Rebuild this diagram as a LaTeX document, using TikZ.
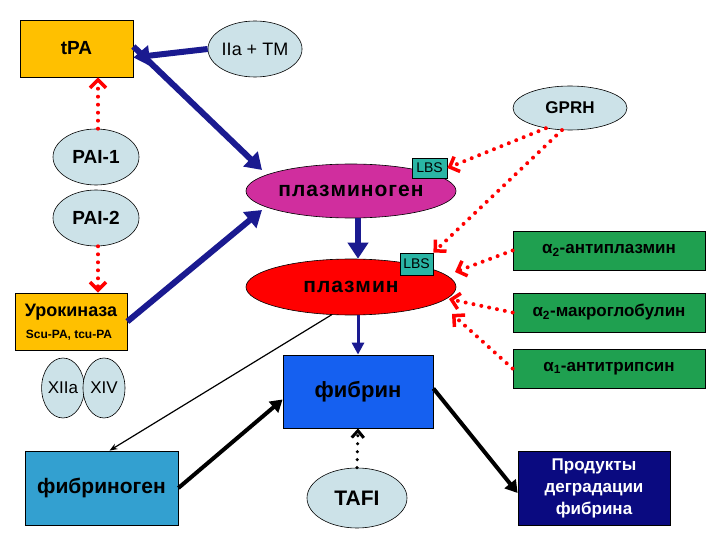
\documentclass[tikz,border=0pt]{standalone}
\usepackage{fontspec}
\setmainfont{Liberation Sans}
\usetikzlibrary{arrows.meta,shapes.geometric}
\definecolor{gold}{HTML}{FFC000}
\definecolor{lb}{HTML}{CCE2E8}
\definecolor{mag}{HTML}{D02E9E}
\definecolor{lbs}{HTML}{2AB5A5}
\definecolor{grn}{HTML}{1FA050}
\definecolor{fib}{HTML}{1560F0}
\definecolor{fbg}{HTML}{33A0D0}
\definecolor{nav}{HTML}{0A0A80}
\definecolor{bl}{HTML}{1A1A90}
\tikzset{
 box/.style={draw=black,line width=0.8pt,inner sep=0pt},
 ell/.style={ellipse,draw=black,line width=0.6pt,fill=lb,inner sep=0pt},
 big/.style={draw=bl,line width=6pt,-{Triangle[length=16pt,width=20pt]}},
 red/.style={draw=red,line width=4pt,line cap=round,dash pattern=on 0pt off 8pt,
   -{Straight Barb[length=8pt,width=16pt,line width=3.5pt]}},
 blk/.style={draw=black,line width=4pt,-{Triangle[length=12pt,width=14pt]}},
 fs/.style={font=\fontsize{#1}{#1}\selectfont},
 bfs/.style={font=\bfseries\fontsize{#1}{#1}\selectfont},
}
\begin{document}
\begin{tikzpicture}[x=1pt,y=-1pt]
\useasboundingbox (0,0) rectangle (720,540);
\fill[white] (0,0) rectangle (720,540);
% nodes
\node[box,fill=gold,minimum width=113pt,minimum height=57pt,bfs=19] (tpa) at (76.5,48.5) {tPA};
\node[ell,minimum width=84pt,minimum height=56pt,fs=18] (tm) at (255,49) {IIa + TM};
\node[ell,minimum width=114pt,minimum height=44pt,bfs=17] (gprh) at (570,108) {GPRH};
\node[ell,minimum width=86pt,minimum height=56pt,bfs=19] (pai1) at (96,157) {PAI-1};
\node[ell,minimum width=86pt,minimum height=56pt,bfs=19] (pai2) at (96,218) {PAI-2};
\node[ellipse,draw=black,line width=0.6pt,fill=mag,minimum width=210pt,minimum height=54pt,inner sep=0pt,bfs=21] (plg) at (351,191) {п\kern1pt л\kern1pt а\kern1pt з\kern1pt м\kern1pt и\kern1pt н\kern1pt о\kern1pt г\kern1pt е\kern1pt н};
\node[box,fill=lbs,minimum width=35pt,minimum height=20pt,fs=14] (lbs1) at (429.5,168) {LBS};
\node[ellipse,draw=black,line width=0.6pt,fill=red,minimum width=210pt,minimum height=56pt,inner sep=0pt,bfs=21] (pl) at (351,287) {п\kern1pt л\kern1pt а\kern1pt з\kern1pt м\kern1pt и\kern1pt н};
\node[box,fill=lbs,minimum width=33pt,minimum height=22pt,fs=14] (lbs2) at (416.5,264) {LBS};
\node[box,fill=gold,minimum width=112pt,minimum height=57pt] (uro) at (71,321.5) {};
\node[bfs=18] (urot) at (71,312) {Урокиназа};
\node[bfs=12] (urot2) at (69,335) {Scu-PA, tcu-PA};
\node[ell,minimum width=42pt,minimum height=60pt,fs=17] (x12) at (63,388) {XIIa};
\node[ell,minimum width=42pt,minimum height=60pt,fs=17] (x14) at (104,388) {XIV};
\node[box,fill=fib,minimum width=150pt,minimum height=73pt,bfs=22] (fbn) at (358,391.5) {фибрин};
\node[box,fill=fbg,minimum width=153pt,minimum height=74pt,bfs=21] (fbg) at (101.5,488) {фибриноген};
\node[ell,minimum width=100pt,minimum height=60pt,bfs=21] (tafi) at (357,498) {TAFI};
\node[box,fill=nav,text=white,minimum width=152pt,minimum height=74pt,align=center,font=\bfseries\fontsize{17}{22}\selectfont] (prod) at (594,488) {Продукты\\деградации\\фибрина};
\node[box,fill=grn,minimum width=192pt,minimum height=39pt,bfs=17] (a2ap) at (609,250.5) {α\textsubscript{2}-антиплазмин};
\node[box,fill=grn,minimum width=192pt,minimum height=39pt,bfs=17] (a2m) at (609,312.5) {α\textsubscript{2}-макроглобулин};
\node[box,fill=grn,minimum width=192pt,minimum height=39pt,bfs=17] (a1at) at (609,368.5) {α\textsubscript{1}-антитрипсин};
% coordinates
\coordinate (c1) at (262,170);
\coordinate (c2) at (262,210);
\coordinate (r1) at (455,272);
\coordinate (r2) at (449,299);
\coordinate (r3) at (452,314);
% blue arrows
\draw[big] (tm.west) -- ([yshift=-9pt]tpa.east);
\draw[big] ([yshift=2pt]tpa.east) -- (c1);
\draw[big] (uro.east) -- (c2);
\draw[big] (plg.south -| fbn.north) -- (pl.north -| fbn.north);
\draw[draw=bl,line width=3pt,-{Triangle[length=12pt,width=12pt]}] (pl.south -| fbn.north) -- (fbn.north);
\draw[black,line width=1.2pt,-{Stealth[length=8pt,width=6pt]}] (pl.235) -- ([xshift=8pt]fbg.north);
\draw[blk] (fbg.east) -- ([yshift=-8pt]fbn.west);
\draw[blk] ([yshift=3pt]fbn.east) -- ([yshift=-5pt]prod.west);
\draw[black,line width=3.5pt,line cap=round,dash pattern=on 0pt off 8pt,-{Straight Barb[length=7pt,width=12pt,line width=3pt]}] (tafi.north) -- (fbn.south);
% red dotted
\draw[red] ([xshift=2pt]pai1.north) -- ([xshift=2pt]pai1.north |- tpa.south);
\draw[red] ([xshift=2pt]pai2.south) -- ([xshift=2pt]pai2.south |- uro.north);
\draw[red] (gprh.220) -- (lbs1.east);
\draw[red] (gprh.250) -- (lbs2.north east);
\draw[red] (a2ap.west) -- (r1);
\draw[red] (a2m.west) -- (r2);
\draw[red] (a1at.west) -- (r3);
\end{tikzpicture}
\end{document}
